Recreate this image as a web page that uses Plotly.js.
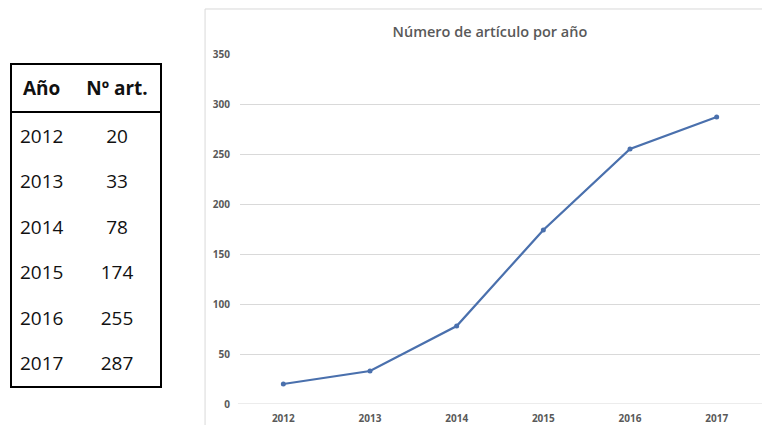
<!DOCTYPE html>
<html>
<head>
<meta charset="utf-8">
<script src="https://cdn.plot.ly/plotly-3.0.1.min.js"></script>
<style>
  html, body { margin: 0; padding: 0; background: #ffffff; }
  #wrap { position: relative; width: 762px; height: 425px; overflow: hidden; }
  #chart { position: absolute; left: 0; top: 0; width: 762px; height: 425px; }
  #tbl { position: absolute; left: 10px; top: 63px; border-collapse: collapse;
         border: 2px solid #000; font-family: "Open Sans", "Liberation Sans", sans-serif;
         font-size: 19px; color: #111; }
  #tbl th { font-weight: 700; height: 46px; padding: 0; border-bottom: 2px solid #000; }
  #tbl td { height: 45.5px; padding: 0; }
  #tbl .c1 { width: 64px; text-align: left; padding-left: 8px; }
  #tbl .c2 { width: 66px; text-align: center; padding-right: 10px; }
  #tbl th.c1 { padding-left: 11px; width: 61px; }
</style>
</head>
<body>
<div id="wrap">
  <div id="chart"></div>
  <table id="tbl"></table>
</div>
<script>
const years = ["2012", "2013", "2014", "2015", "2016", "2017"];
const articles = [20, 33, 78, 174, 255, 287];
const yTicks = [0, 50, 100, 150, 200, 250, 300, 350];
const tableHeaders = ["Año", "Nº art."];
const chartTitle = "Número de artículo por año";

// Table built from the same arrays
const tbl = document.getElementById("tbl");
let html = "<tr><th class='c1'>" + tableHeaders[0] + "</th><th class='c2'>" + tableHeaders[1] + "</th></tr>";
years.forEach((y, i) => {
  html += "<tr><td class='c1'>" + y + "</td><td class='c2'>" + articles[i] + "</td></tr>";
});
tbl.innerHTML = html;

const gray = "#595959";
const font = "Open Sans, Liberation Sans, sans-serif";
const trace = {
  x: years,
  y: articles,
  type: "scatter",
  mode: "lines+markers",
  line: { color: "#4a70ad", width: 2.25 },
  marker: { color: "#4a70ad", size: 5 },
  hoverinfo: "x+y"
};

const layout = {
  width: 762,
  height: 425,
  margin: { l: 240, r: 2, t: 54, b: 21, pad: 0 },
  paper_bgcolor: "rgba(0,0,0,0)",
  plot_bgcolor: "rgba(0,0,0,0)",
  showlegend: false,
  title: {
    text: chartTitle,
    font: { family: font, size: 14.5, color: gray, weight: 600 },
    xref: "container", x: 0.643, xanchor: "center",
    yref: "container", y: 0.925, yanchor: "middle"
  },
  xaxis: {
    type: "category",
    range: [-0.5, 5.5],
    showgrid: false,
    zeroline: false,
    showline: false,
    ticks: "",
    ticklabelstandoff: 7,
    tickfont: { family: font, size: 10, color: gray, weight: 700 },
    fixedrange: true
  },
  yaxis: {
    range: [0, 350],
    tickvals: yTicks,
    ticktext: yTicks.map(String),
    showgrid: true,
    gridcolor: "#d9d9d9",
    gridwidth: 1,
    zeroline: false,
    showline: false,
    ticks: "",
    ticklabelstandoff: 9,
    tickfont: { family: font, size: 10, color: gray, weight: 700 },
    fixedrange: true
  },
  shapes: [
    {
      type: "rect", xref: "paper", yref: "paper",
      x0: -0.0672, x1: 1.05, y0: -0.2, y1: 1.1286,
      line: { color: "#d9d9d9", width: 1 }, fillcolor: "rgba(0,0,0,0)"
    },
    {
      type: "line", xref: "paper", yref: "y",
      x0: -0.004, x1: 1.01, y0: 0, y1: 0,
      line: { color: "#d9d9d9", width: 1 }
    }
  ]
};

Plotly.newPlot("chart", [trace], layout, { displayModeBar: false, staticPlot: true });
</script>
</body>
</html>
